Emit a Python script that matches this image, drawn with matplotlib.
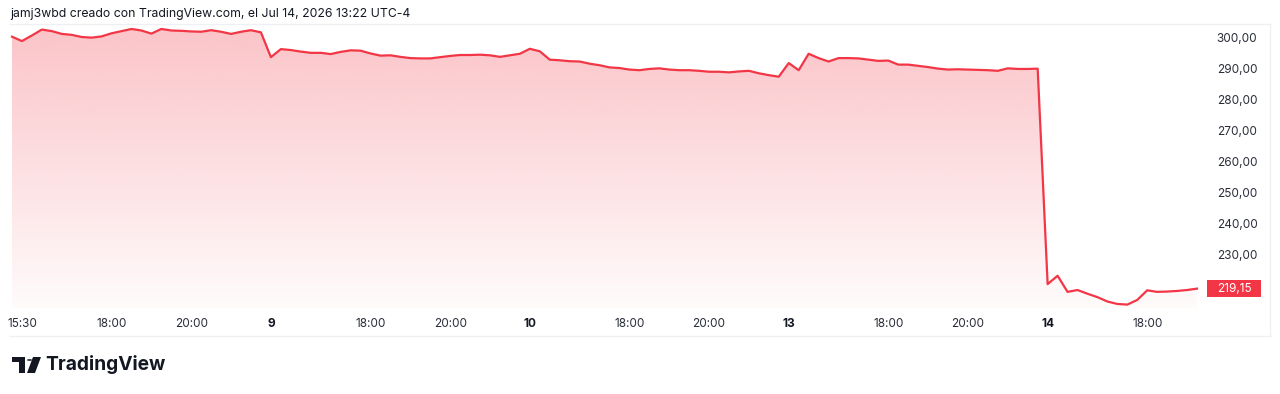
import numpy as np
import matplotlib
matplotlib.use("Agg")
import matplotlib.pyplot as plt
from matplotlib.transforms import blended_transform_factory, ScaledTranslation
from matplotlib.patches import Rectangle, Circle, Polygon

plt.rcParams['font.family'] = ['Inter', 'DejaVu Sans']

# ---- data: 15-minute closes per session (labels in local chart time) ----
day_jul8 = [300.4, 299.0, 300.8, 302.7, 302.2, 301.3, 301.0, 300.3, 300.1, 300.5,
            301.5, 302.2, 302.9, 302.4, 301.4, 302.9, 302.4, 302.3, 302.1, 302.0,
            302.5, 302.0, 301.3, 302.0, 302.5, 301.8]
day_jul9 = [293.8, 296.4, 296.1, 295.6, 295.2, 295.2, 294.8, 295.5, 296.0, 295.9,
            295.0, 294.3, 294.4, 293.9, 293.5, 293.4, 293.4, 293.8, 294.2, 294.5,
            294.5, 294.6, 294.4, 293.9, 294.4, 294.9]
day_jul10 = [296.5, 295.7, 293.0, 292.8, 292.5, 292.4, 291.7, 291.2, 290.5, 290.3,
             289.8, 289.6, 290.0, 290.2, 289.8, 289.6, 289.6, 289.4, 289.1, 289.1,
             288.9, 289.2, 289.4, 288.6, 288.0, 287.5]
day_jul13 = [291.9, 289.6, 294.9, 293.5, 292.4, 293.5, 293.5, 293.4, 293.0, 292.6,
             292.7, 291.4, 291.4, 291.0, 290.6, 290.1, 289.8, 289.9, 289.8, 289.7,
             289.6, 289.4, 290.2, 290.0, 290.0, 290.1]
day_jul14 = [220.6, 223.3, 218.1, 218.7, 217.5, 216.4, 215.0, 214.2, 214.0, 215.5,
             218.6, 218.1, 218.2, 218.4, 218.7, 219.15]

x_tick_pos = [0, 10, 18, 26, 36, 44, 52, 62, 70, 78, 88, 96, 104, 114]
x_tick_labels = ["15:30", "18:00", "20:00", "9", "18:00", "20:00", "10",
                 "18:00", "20:00", "13", "18:00", "20:00", "14", "18:00"]
bold_labels = {"9", "10", "13", "14"}
y_ticks = [230, 240, 250, 260, 270, 280, 290, 300]

header = "jamj3wbd creado con TradingView.com, el Jul 14, 2026 13:22 UTC-4"
last_price = day_jul14[-1]

prices = np.array(day_jul8 + day_jul9 + day_jul10 + day_jul13 + day_jul14)
idx = np.arange(len(prices))

RED = "#F23645"
TXT = "#131722"
LBL = "#2a2e39"

W, H = 1280, 394
fig = plt.figure(figsize=(W / 100, H / 100), dpi=100)
fig.patch.set_facecolor("white")

def fx(px):
    return px / W

def fy(py):
    return 1 - py / H

# plot pane: x 10..1200, y 24..308
ax = fig.add_axes([fx(10), fy(308), fx(1190), (308 - 24) / H])
ax.set_xlim(-0.2, 119.3)
ax.set_ylim(212.9, 304.5)
for s in ax.spines.values():
    s.set_visible(False)

# gradient fill under the line
ymin, ymax = ax.get_ylim()
n = 256
alpha = np.linspace(0.02, 0.30, n)[:, None]
rgba = np.zeros((n, 1, 4))
rgba[..., 0] = 242 / 255
rgba[..., 1] = 54 / 255
rgba[..., 2] = 69 / 255
rgba[..., 3] = alpha
im = ax.imshow(rgba, extent=[idx[0], idx[-1], ymin, ymax], origin="lower",
               aspect="auto", interpolation="bilinear", zorder=1)
clip = Polygon(np.column_stack([np.r_[idx, idx[-1], idx[0]],
                                np.r_[prices, ymin, ymin]]),
               closed=True, transform=ax.transData)
im.set_clip_path(clip)

ax.plot(idx, prices, color=RED, lw=1.6, solid_joinstyle="round", zorder=3)

# x ticks
ax.set_xticks(x_tick_pos)
ax.set_xticklabels(x_tick_labels)
ax.tick_params(axis="x", length=0, pad=7.5, labelsize=8.5, labelcolor=LBL)
for lab in ax.get_xticklabels():
    if lab.get_text() in bold_labels:
        lab.set_fontweight("bold")
        lab.set_color(TXT)
first = ax.get_xticklabels()[0]
first.set_horizontalalignment("left")
first.set_transform(first.get_transform() + ScaledTranslation(-4 / 100, 0, fig.dpi_scale_trans))

# y ticks on right
ax.yaxis.tick_right()
ax.set_yticks(y_ticks)
ax.set_yticklabels([f"{v:.2f}".replace(".", ",") for v in y_ticks])
ax.tick_params(axis="y", length=0, pad=12, labelsize=8.5, labelcolor=LBL)

# last price label: red box tied to the last price on the y scale
tr = blended_transform_factory(ax.transAxes, ax.transData)
box_h = 17 / 3.1  # box height in price units (px / px-per-unit)
ax.add_patch(Rectangle(((1207 - 10) / 1190, last_price - box_h / 2), 54 / 1190, box_h,
                       transform=tr, facecolor=RED, edgecolor="none", zorder=5,
                       clip_on=False))
ax.text((1234 - 10) / 1190, last_price, f"{last_price:.2f}".replace(".", ","),
        transform=tr, ha="center", va="center", color="white", fontsize=8.5,
        zorder=6, clip_on=False)

# frame lines
line_c = "#eef0f3"
fig.add_artist(plt.Line2D([fx(10), fx(1270)], [fy(24), fy(24)], color=line_c, lw=1))
fig.add_artist(plt.Line2D([fx(1270), fx(1270)], [fy(24), fy(336)], color=line_c, lw=1))
fig.add_artist(plt.Line2D([fx(10), fx(1270)], [fy(336), fy(336)], color=line_c, lw=1))

# header
fig.text(fx(10), fy(14), header, ha="left", va="center", fontsize=8.8, color=TXT)

# TradingView logo
logo_c = "#131722"
fig.add_artist(Rectangle((fx(12), fy(362)), fx(13), (362 - 357) / H,
                         facecolor=logo_c, edgecolor="none", transform=fig.transFigure))
fig.add_artist(Rectangle((fx(19), fy(373)), fx(6), (373 - 357) / H,
                         facecolor=logo_c, edgecolor="none", transform=fig.transFigure))
fig.add_artist(Polygon([[fx(33), fy(357)], [fx(41), fy(357)], [fx(35), fy(373)], [fx(27), fy(373)]],
                       closed=True, facecolor=logo_c, edgecolor="none", transform=fig.transFigure))
fig.add_artist(Circle((fx(29.5), fy(360)), 2.6 / W, facecolor=logo_c, edgecolor="none",
                      transform=fig.transFigure))
fig.text(fx(45), fy(365), "TradingView", ha="left", va="center", fontsize=13.8,
         fontweight="bold", color=logo_c)

fig.savefig("out.png", dpi=100, facecolor="white")
